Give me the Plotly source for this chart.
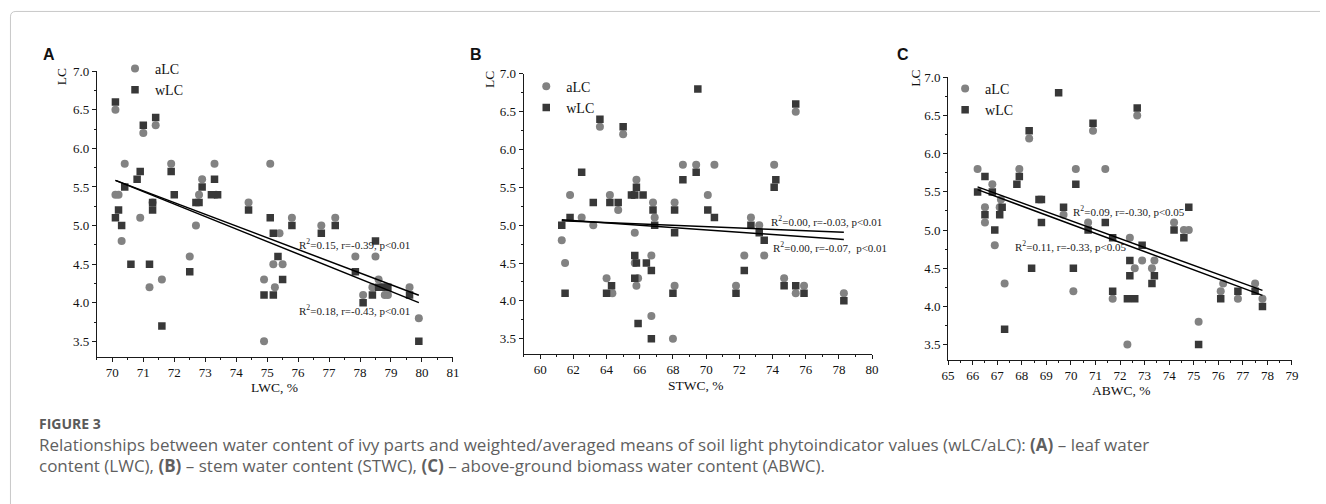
import plotly.graph_objects as go

# ---------------- data ----------------
# Panel A: LWC, %
lwc_alc_x = [70.1, 70.1, 70.2, 70.3, 70.4, 70.9, 71.0, 71.2, 71.3, 71.4, 71.6, 71.9, 72.5, 72.7,
             72.8, 72.9, 73.3, 73.35, 74.4, 74.9, 74.9, 75.1, 75.2, 75.25, 75.4, 75.5, 75.8, 76.75,
             77.2, 77.85, 78.1, 78.4, 78.5, 78.6, 78.75, 78.8, 78.9, 79.6, 79.9]
lwc_alc_y = [6.5, 5.4, 5.4, 4.8, 5.8, 5.1, 6.2, 4.2, 5.3, 6.3, 4.3, 5.8, 4.6, 5.0,
             5.4, 5.6, 5.8, 5.4, 5.3, 4.3, 3.5, 5.8, 4.5, 4.2, 4.9, 4.5, 5.1, 5.0,
             5.1, 4.6, 4.1, 4.2, 4.6, 4.3, 4.2, 4.1, 4.1, 4.2, 3.8]
lwc_wlc_x = [70.1, 70.1, 70.2, 70.3, 70.4, 70.6, 70.8, 70.9, 71.0, 71.2, 71.3, 71.3, 71.4, 71.6,
             71.9, 72.0, 72.5, 72.7, 72.8, 72.9, 73.2, 73.3, 73.4, 74.4, 74.9, 75.1, 75.2, 75.2,
             75.35, 75.5, 75.8, 76.75, 77.2, 77.85, 78.1, 78.4, 78.5, 78.6, 78.75, 78.9, 79.6, 79.9]
lwc_wlc_y = [6.6, 5.1, 5.2, 5.0, 5.5, 4.5, 5.6, 5.7, 6.3, 4.5, 5.3, 5.2, 6.4, 3.7,
             5.7, 5.4, 4.4, 5.3, 5.3, 5.5, 5.4, 5.6, 5.4, 5.2, 4.1, 5.1, 4.1, 4.9,
             4.6, 4.3, 5.0, 4.9, 5.0, 4.4, 4.0, 4.1, 4.8, 4.2, 4.2, 4.2, 4.1, 3.5]

# Panel B: STWC, %
stwc_alc_x = [61.3, 61.5, 61.8, 62.5, 63.2, 63.6, 64.0, 64.2, 64.35, 64.7, 65.0, 65.6, 65.7, 65.7,
              65.8, 65.8, 65.9, 66.7, 66.7, 66.8, 66.9, 68.0, 68.1, 68.1, 68.6, 69.4, 70.1, 70.5,
              71.8, 72.3, 72.7, 73.2, 73.5, 74.1, 74.7, 75.4, 75.4, 75.9, 78.3]
stwc_alc_y = [4.8, 4.5, 5.4, 5.1, 5.0, 6.3, 4.3, 5.4, 4.1, 5.2, 6.2, 5.4, 4.9, 4.5,
              5.6, 4.2, 4.3, 4.6, 3.8, 5.3, 5.1, 3.5, 5.3, 4.2, 5.8, 5.8, 5.4, 5.8,
              4.2, 4.6, 5.1, 5.0, 4.6, 5.8, 4.3, 6.5, 4.1, 4.2, 4.1]
stwc_wlc_x = [61.3, 61.5, 61.8, 62.5, 63.2, 63.6, 64.0, 64.2, 64.3, 64.7, 65.0, 65.5, 65.7, 65.8,
              66.2, 65.7, 65.8, 65.7, 65.9, 66.4, 66.7, 66.7, 66.8, 66.9, 68.0, 68.1, 68.1, 68.6,
              69.4, 69.5, 70.1, 70.5, 71.8, 72.3, 72.7, 73.2, 73.5, 74.1, 74.2, 74.7, 75.4, 75.4,
              75.9, 78.3]
stwc_wlc_y = [5.0, 4.1, 5.1, 5.7, 5.3, 6.4, 4.1, 5.3, 4.2, 5.3, 6.3, 5.4, 5.4, 5.5,
              5.4, 4.6, 4.5, 4.3, 3.7, 4.5, 4.4, 3.5, 5.2, 5.0, 4.1, 5.2, 4.9, 5.6,
              5.7, 6.8, 5.2, 5.1, 4.1, 4.4, 5.0, 4.9, 4.8, 5.5, 5.6, 4.2, 6.6, 4.2,
              4.1, 4.0]

# Panel C: ABWC, %
abwc_alc_x = [66.2, 66.5, 66.5, 66.8, 66.9, 67.1, 67.15, 67.3, 67.9, 68.3, 69.7, 70.1, 70.2, 70.7,
              70.9, 71.4, 71.7, 72.3, 72.4, 72.6, 72.7, 72.9, 73.3, 73.4, 74.2, 74.6, 74.8, 75.2,
              76.1, 76.2, 76.8, 77.5, 77.8]
abwc_alc_y = [5.8, 5.3, 5.1, 5.6, 4.8, 5.3, 5.4, 4.3, 5.8, 6.2, 5.2, 4.2, 5.8, 5.1,
              6.3, 5.8, 4.1, 3.5, 4.9, 4.5, 6.5, 4.6, 4.5, 4.6, 5.1, 5.0, 5.0, 3.8,
              4.2, 4.3, 4.1, 4.3, 4.1]
abwc_wlc_x = [66.2, 66.5, 66.5, 66.8, 66.9, 67.1, 67.2, 67.3, 67.8, 67.9, 68.3, 68.4, 68.7, 68.8,
              68.8, 69.5, 69.7, 70.1, 70.2, 70.7, 70.9, 71.4, 71.7, 71.7, 72.3, 72.4, 72.4, 72.6,
              72.7, 72.9, 73.3, 73.4, 74.2, 74.6, 74.8, 75.2, 76.1, 76.8, 77.5, 77.8]
abwc_wlc_y = [5.5, 5.7, 5.2, 5.5, 5.0, 5.2, 5.3, 3.7, 5.6, 5.7, 6.3, 4.5, 5.4, 5.4,
              5.1, 6.8, 5.3, 4.5, 5.6, 5.0, 6.4, 5.1, 4.9, 4.2, 4.1, 4.6, 4.4, 4.1,
              6.6, 4.8, 4.3, 4.4, 5.0, 4.9, 5.3, 3.5, 4.1, 4.2, 4.2, 4.0]

# Linear fits (slope, intercept): [upper line, lower line]
fit_slope_a = [-0.1519, -0.1615]
fit_icpt_a = [16.234, 16.906]
fit_slope_b = [-0.00912, -0.0153]
fit_icpt_b = [5.619, 6.008]
fit_slope_c = [-0.1169, -0.1194]
fit_icpt_c = [13.305, 13.434]

fit_labels_a = ["R<sup>2</sup>=0.15, r=-0.39, p&lt;0.01", "R<sup>2</sup>=0.18, r=-0.43, p&lt;0.01"]
fit_labels_b = ["R<sup>2</sup>=0.00, r=-0.03, p&lt;0.01", "R<sup>2</sup>=0.00, r=-0.07, &nbsp;p&lt;0.01"]
fit_labels_c = ["R<sup>2</sup>=0.09, r=-0.30, p&lt;0.05", "R<sup>2</sup>=0.11, r=-0.33, p&lt;0.05"]

x_titles = ["LWC, %", "STWC, %", "ABWC, %"]
panel_letters = ["A", "B", "C"]
y_title = "LC"

caption_head = "FIGURE 3"
caption_lines = ["Relationships between water content of ivy parts and weighted/averaged means of soil light "
                 "phytoindicator values (wLC/aLC): <b>(A)</b> – leaf water",
                 "content (LWC), <b>(B)</b> – stem water content (STWC), <b>(C)</b> – above-ground biomass "
                 "water content (ABWC)."]

# ---------------- layout geometry ----------------
W, H = 1326, 504
def px(x):
    return x / W
def py(y):
    return 1 - y / H

SERIF = "Liberation Serif"
C_ALC = "#828282"
C_WLC = "#383838"
AX = "#1a1a1a"

panels = [
    dict(ax="", ax_x=(91.7, 451.0), ax_y=(65.0, 354.7), xr=[69.5, 81.001], x0=70, dx=1, mdx=0.5,
         ax_data=(lwc_alc_x, lwc_alc_y, lwc_wlc_x, lwc_wlc_y), slope=fit_slope_a, icpt=fit_icpt_a,
         labels=fit_labels_a, lab_pos=[(75.96, 4.76), (75.96, 3.905)],
         leg=(110, 46.5), letter=(43.5, 48.5), yt=(56.3, 70.5), xt=(271, 385.5)),
    dict(ax="2", ax_x=(522.3, 874.0), ax_y=(67.7, 351.7), xr=[58.999, 80.001], x0=60, dx=2, mdx=1,
         ax_data=(stwc_alc_x, stwc_alc_y, stwc_wlc_x, stwc_wlc_y), slope=fit_slope_b, icpt=fit_icpt_b,
         labels=fit_labels_b, lab_pos=[(73.78, 5.053), (73.88, 4.715)],
         leg=(525, 64.5), letter=(474.5, 48.3), yt=(488.5, 74), xt=(696, 383.5)),
    dict(ax="3", ax_x=(950.7, 1297.7), ax_y=(71.3, 357.8), xr=[64.999, 79.001], x0=65, dx=1, mdx=0.5,
         ax_data=(abwc_alc_x, abwc_alc_y, abwc_wlc_x, abwc_wlc_y), slope=fit_slope_c, icpt=fit_icpt_c,
         labels=fit_labels_c, lab_pos=[(70.02, 5.25), (67.64, 4.79)],
         leg=(947.7, 66.9), letter=(905.5, 48.3), yt=(918, 72), xt=(1126, 389)),
]

fig = go.Figure()
annotations = []
layout_upd = {}

for i, p in enumerate(panels):
    s = p["ax"]
    xa, ya = "x" + s, "y" + s
    leg = "legend" + s
    ax_x, ax_y, wx, wy = p["ax_data"]
    fig.add_trace(go.Scatter(x=ax_x, y=ax_y, mode="markers", name="aLC", xaxis=xa, yaxis=ya,
                             legend=leg, marker=dict(symbol="circle", size=8, color=C_ALC)))
    fig.add_trace(go.Scatter(x=wx, y=wy, mode="markers", name="wLC", xaxis=xa, yaxis=ya,
                             legend=leg, marker=dict(symbol="square", size=7.5, color=C_WLC)))
    allx = list(ax_x) + list(wx)
    xmin, xmax = min(allx), max(allx)
    for k in range(2):
        fx = [xmin, xmax]
        fy = [p["icpt"][k] + p["slope"][k] * v for v in fx]
        fig.add_trace(go.Scatter(x=fx, y=fy, mode="lines", xaxis=xa, yaxis=ya, showlegend=False,
                                 line=dict(color="black", width=1.5), hoverinfo="skip"))
        annotations.append(dict(x=p["lab_pos"][k][0], y=p["lab_pos"][k][1], xref=xa, yref=ya,
                                text=p["labels"][k], showarrow=False, xanchor="left", yanchor="middle",
                                font=dict(family=SERIF, size=11, color="#222")))

    common = dict(showline=True, linecolor=AX, linewidth=1, ticks="outside", ticklen=4, tickwidth=1,
                  tickcolor=AX, showgrid=False, zeroline=False,
                  tickfont=dict(family=SERIF, size=13, color="#111"))
    layout_upd["xaxis" + s] = dict(common, domain=[px(p["ax_x"][0]), px(p["ax_x"][1])], range=p["xr"],
                                   anchor=ya, tickmode="linear", tick0=p["x0"], dtick=p["dx"],
                                   minor=dict(ticks="outside", ticklen=2, tickwidth=1, tickcolor=AX,
                                              dtick=p["mdx"], tick0=p["x0"], showgrid=False))
    layout_upd["yaxis" + s] = dict(common, domain=[py(p["ax_y"][1]), py(p["ax_y"][0])], range=[3.3, 7.001],
                                   anchor=xa, tickmode="linear", tick0=3.5, dtick=0.5, tickformat=".1f",
                                   minor=dict(ticks="outside", ticklen=2, tickwidth=1, tickcolor=AX,
                                              dtick=0.25, tick0=3.5, showgrid=False))
    layout_upd[leg] = dict(x=px(p["leg"][0]), y=py(p["leg"][1]), xanchor="left", yanchor="top",
                           bgcolor="rgba(0,0,0,0)", borderwidth=0, tracegroupgap=0,
                           font=dict(family=SERIF, size=14, color="#111"))
    annotations.append(dict(x=px(p["letter"][0]), y=py(p["letter"][1]), xref="paper", yref="paper",
                            text="<b>%s</b>" % panel_letters[i], showarrow=False,
                            xanchor="center", yanchor="middle",
                            font=dict(family="Liberation Sans", size=16, color="#111")))
    annotations.append(dict(x=px(p["yt"][0]), y=py(p["yt"][1]), xref="paper", yref="paper",
                            text=y_title, textangle=-90, showarrow=False,
                            xanchor="center", yanchor="middle",
                            font=dict(family=SERIF, size=13.5, color="#111")))
    annotations.append(dict(x=px(p["xt"][0]), y=py(p["xt"][1]), xref="paper", yref="paper",
                            text=x_titles[i], showarrow=False, xanchor="center", yanchor="middle",
                            font=dict(family=SERIF, size=13.5, color="#111")))

annotations.append(dict(x=px(31), y=py(422), xref="paper", yref="paper", text="<b>" + caption_head + "</b>",
                        showarrow=False, xanchor="left", yanchor="middle",
                        font=dict(family="Open Sans", size=14, color="#5a5a5a")))
for j, line_y in enumerate([443.5, 465.0]):
    annotations.append(dict(x=px(31), y=py(line_y), xref="paper", yref="paper", text=caption_lines[j],
                            showarrow=False, xanchor="left", yanchor="middle", align="left",
                            font=dict(family="Open Sans", size=17, color="#5f5f5f")))

border = "M %f,%f L %f,%f Q %f,%f %f,%f L %f,%f" % (
    px(4.5), py(504), px(4.5), py(10), px(4.5), py(4.5), px(10), py(4.5), px(1326), py(4.5))

fig.update_layout(
    width=W, height=H, autosize=False,
    margin=dict(l=0, r=0, t=0, b=0),
    paper_bgcolor="white", plot_bgcolor="white",
    annotations=annotations,
    shapes=[dict(type="path", path=border, xref="paper", yref="paper",
                 line=dict(color="#c8c8c8", width=1))],
    **layout_upd,
)

fig.write_html("out.html", config={"displayModeBar": False},
               post_script="document.body.style.margin='0px';document.body.style.overflow='hidden';")
